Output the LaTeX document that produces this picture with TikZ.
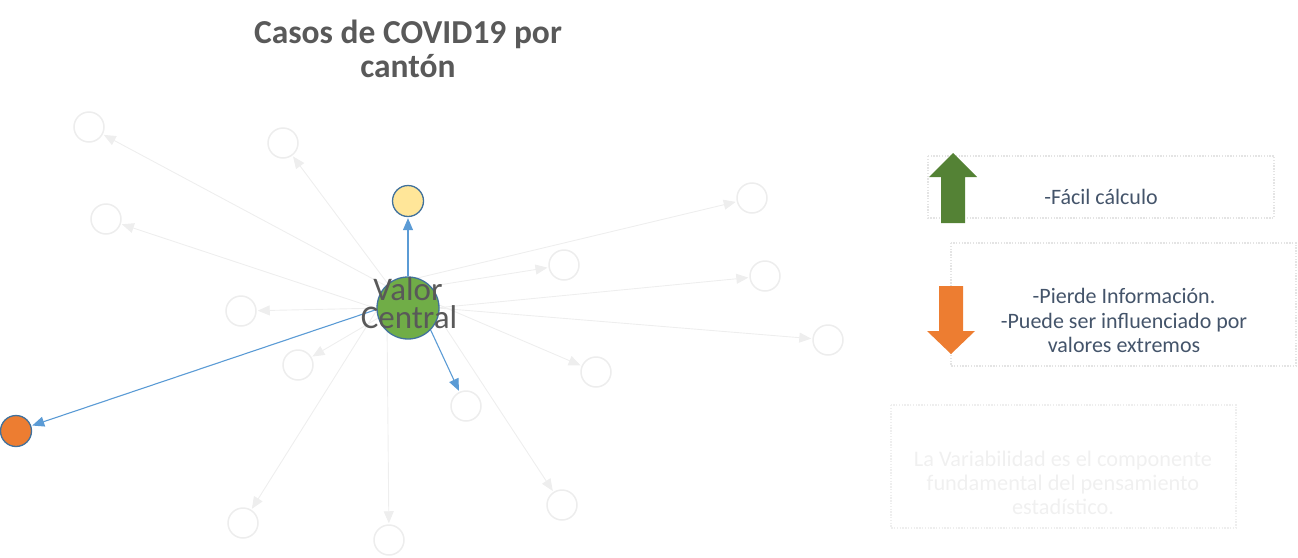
\documentclass[tikz,border=0pt]{standalone}
\usepackage{fontspec}
\setmainfont{Carlito}
\usetikzlibrary{arrows.meta}
\pgfdeclarelayer{bg}
\pgfsetlayers{bg,main}
\definecolor{faint}{HTML}{EEEEEE}
\definecolor{faintc}{HTML}{EDEDED}
\definecolor{nodeline}{HTML}{41719C}
\definecolor{blueline}{HTML}{5B9BD5}
\definecolor{greenfill}{HTML}{70AD47}
\definecolor{yellowfill}{HTML}{FFE699}
\definecolor{orangefill}{HTML}{ED7D31}
\definecolor{darkgreen}{HTML}{548235}
\definecolor{titlegray}{HTML}{595959}
\definecolor{textblue}{HTML}{44546A}
\definecolor{boxdot}{HTML}{E4E4E4}
\definecolor{fainttext}{HTML}{F0F0F0}
\begin{document}
\begin{tikzpicture}[x=1pt,y=-1pt,
  ghost/.style={circle,draw=faintc,line width=1.5pt,fill=white,minimum size=30pt,inner sep=0pt},
  solidnode/.style={circle,draw=nodeline,line width=1.3pt,minimum size=31pt,inner sep=0pt},
  fedge/.style={draw=faint,line width=0.9pt,-{Triangle[length=12pt,width=10pt]},shorten >=1pt},
  bedge/.style={draw=blueline,line width=1.1pt,-{Triangle[length=12pt,width=10pt]},shorten >=1pt},
  dotbox/.style={draw=boxdot,line width=1.4pt,dash pattern=on 1.4pt off 1.4pt},
  txt/.style={inner sep=0pt,anchor=base,text=textblue,font=\fontsize{22}{25}\selectfont}
]
\useasboundingbox (0,0) rectangle (1298,557);

% title
\node[inner sep=0pt,anchor=base,text=titlegray,font=\fontsize{33.5}{34}\selectfont\bfseries] (t1) at (408,43) {Casos de COVID19 por};
\node[inner sep=0pt,anchor=base,text=titlegray,font=\fontsize{33.5}{34}\selectfont\bfseries] (t2) at (408,77) {cantón};

% nodes
\node[solidnode,fill=greenfill,minimum size=62pt] (c) at (408,308) {};
\node[solidnode,fill=yellowfill] (y) at (408,201) {};
\node[solidnode,fill=orangefill] (o) at (16,431) {};

\node[ghost] (g1) at (89,127) {};
\node[ghost] (g2) at (283,143) {};
\node[ghost] (g3) at (106,219) {};
\node[ghost] (g4) at (241,311) {};
\node[ghost] (g5) at (298,365) {};
\node[ghost] (g6) at (466,406) {};
\node[ghost] (g7) at (243,523) {};
\node[ghost] (g8) at (389,540) {};
\node[ghost] (g9) at (562,505) {};
\node[ghost] (g10) at (596,372) {};
\node[ghost] (g11) at (752,198) {};
\node[ghost] (g12) at (564,265) {};
\node[ghost] (g13) at (765,276) {};
\node[ghost] (g14) at (828,340) {};

% start points of the connectors (inside the central circle)
\coordinate (s1) at (390,288);
\coordinate (s2) at (388,284);
\coordinate (s3) at (390,313);
\coordinate (s4) at (385,308);
\coordinate (s5) at (385,314);
\coordinate (s7) at (380,305);
\coordinate (s8) at (387,320);
\coordinate (s9) at (434,310);
\coordinate (s10) at (430,301);
\coordinate (s11) at (405,281);
\coordinate (s12) at (420,288);
\coordinate (s13) at (425,309);
\coordinate (s14) at (425,307);
\coordinate (so) at (378,309);
\coordinate (s6) at (426,320);

\begin{pgfonlayer}{bg}
\foreach \n in {1,2,3,4,5,7,8,9,10,11,12,13,14}
  \draw[fedge] (s\n) -- (g\n);
\draw[bedge] (so) -- (o);
\draw[bedge] (s6) -- (g6);
\end{pgfonlayer}
\draw[bedge] (c) -- (y);

% central label
\node[inner sep=0pt,anchor=base,text=titlegray,font=\fontsize{33}{28}\selectfont] (v1) at (408,300) {Valor};
\node[inner sep=0pt,anchor=base,text=titlegray,font=\fontsize{33}{28}\selectfont] (v2) at (409,328) {Central};

% right side boxes
\draw[dotbox] (928,156) rectangle (1274,218);
\draw[dotbox] (951,243) rectangle (1296,366);
\draw[dotbox,draw=faint] (891,405) rectangle (1236,528);

% arrows
\fill[darkgreen] (941,223) -- (941,177) -- (929,177) -- (953,153) -- (977,177) -- (965,177) -- (965,223) -- cycle;
\fill[orangefill] (939,286) -- (963,286) -- (963,331) -- (975,331) -- (951,354) -- (927,331) -- (939,331) -- cycle;

% texts
\node[txt] (f1) at (1101,204) {-Fácil cálculo};
\node[txt] (p1) at (1124,303) {-Pierde Información.};
\node[txt] (p2) at (1124,328) {-Puede ser influenciado por};
\node[txt] (p3) at (1124,352) {valores extremos};

\node[txt,text=fainttext,font=\fontsize{22.3}{25}\selectfont] (l1) at (1063,466) {La Variabilidad es el componente};
\node[txt,text=fainttext,font=\fontsize{22.3}{25}\selectfont] (l2) at (1063,490) {fundamental del pensamiento};
\node[txt,text=fainttext,font=\fontsize{22.3}{25}\selectfont] (l3) at (1063,514) {estadístico.};
\end{tikzpicture}
\end{document}
